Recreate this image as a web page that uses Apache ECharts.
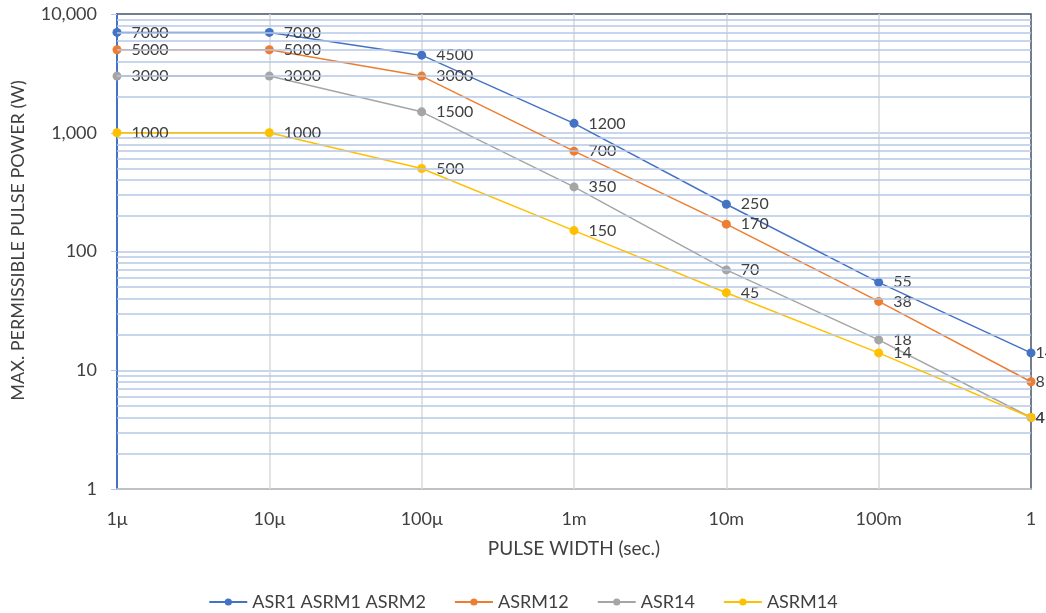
<!DOCTYPE html>
<html>
<head>
<meta charset="utf-8">
<script src="https://cdn.jsdelivr.net/npm/echarts@6/dist/echarts.min.js"></script>
<style>
  html, body { margin: 0; padding: 0; background: #fff; }
  #chart { width: 1046px; height: 613px; }
</style>
</head>
<body>
<div id="chart"></div>
<script>
  // pulse widths along the bottom
  var widths = ['1μ', '10μ', '100μ', '1m', '10m', '100m', '1'];

  // max permissible pulse power (W)
  var asr1 = [7000, 7000, 4500, 1200, 250, 55, 14];
  var asrm12 = [5000, 5000, 3000, 700, 170, 38, 8];
  var asr14 = [3000, 3000, 1500, 350, 70, 18, 4];
  var asrm14 = [1000, 1000, 500, 150, 45, 14, 4];

  var seriesNames = ['ASR1 ASRM1 ASRM2', 'ASRM12', 'ASR14', 'ASRM14'];
  var colors = ['#4472c4', '#ed7d31', '#a5a5a5', '#ffc000'];

  // the 2..9 lines of each decade
  var minorLines = [2, 3, 4, 5, 6, 7, 8, 9,
    20, 30, 40, 50, 60, 70, 80, 90,
    200, 300, 400, 500, 600, 700, 800, 900,
    2000, 3000, 4000, 5000, 6000, 7000, 8000, 9000];

  var font = 'Lato, "Liberation Sans", sans-serif';
  var textColor = '#404040';

  function mkSeries(name, data, color) {
    var last = data.length - 1;
    return {
      name: name,
      type: 'line',
      // last labels sit tight against the right edge, like the original
      data: data.map(function (v, i) {
        return i === last ? { value: v, label: { distance: 0 } } : v;
      }),
      color: color,
      symbol: 'circle',
      symbolSize: 9,
      lineStyle: { width: 1.5, color: color },
      itemStyle: { color: color },
      label: {
        show: true,
        position: 'right',
        distance: 10,
        color: textColor,
        fontFamily: font,
        fontSize: 16
      },
      z: 3
    };
  }

  var chart = echarts.init(document.getElementById('chart'));
  var option = {
    animation: false,
    textStyle: { fontFamily: font },
    grid: {
      left: 117, right: 15, top: 14, bottom: 124,
      show: true,
      borderColor: '#44546a',
      borderWidth: 1.5
    },
    legend: {
      bottom: -3,
      left: 'center',
      data: seriesNames,
      itemWidth: 38,
      itemHeight: 9,
      itemGap: 28,
      textStyle: { color: textColor, fontSize: 18, fontFamily: font }
    },
    xAxis: {
      type: 'category',
      data: widths,
      boundaryGap: false,
      name: 'PULSE WIDTH (sec.)',
      nameLocation: 'middle',
      nameGap: 50,
      nameTextStyle: { color: textColor, fontSize: 19, fontFamily: font },
      axisLine: { lineStyle: { color: '#d9d9d9', width: 1.5 } },
      axisTick: { show: false },
      axisLabel: { color: textColor, fontSize: 18, margin: 21, fontFamily: font },
      splitLine: {
        show: true, showMinLine: false, showMaxLine: false,
        lineStyle: { color: '#d9d9d9', width: 1.5 }
      }
    },
    yAxis: {
      type: 'log',
      logBase: 10,
      min: 1,
      max: 10000,
      name: 'MAX. PERMISSIBLE PULSE POWER (W)',
      nameLocation: 'middle',
      nameGap: 90,
      nameTextStyle: {
        color: textColor, fontSize: 18, fontFamily: font,
        padding: [0, 0, 0, 22]
      },
      axisLine: { show: true, lineStyle: { color: '#4472c4', width: 2 } },
      axisTick: { show: true, length: 6, lineStyle: { color: '#b4c7e7' } },
      axisLabel: {
        color: textColor, fontSize: 18, margin: 20, fontFamily: font,
        formatter: function (v) { return Math.round(v).toLocaleString('en-US'); }
      },
      splitLine: {
        show: true, showMinLine: false, showMaxLine: false,
        lineStyle: { color: '#b4c7e7', width: 1.5 }
      }
    },
    series: [
      mkSeries(seriesNames[0], asr1, colors[0]),
      mkSeries(seriesNames[1], asrm12, colors[1]),
      mkSeries(seriesNames[2], asr14, colors[2]),
      mkSeries(seriesNames[3], asrm14, colors[3]),
      {
        type: 'line',
        data: [],
        silent: true,
        z: 1,
        markLine: {
          silent: true,
          symbol: 'none',
          label: { show: false },
          lineStyle: { color: '#b4c7e7', width: 1.5, type: 'solid' },
          data: minorLines.map(function (v) { return { yAxis: v }; })
        }
      }
    ]
  };
  chart.setOption(option);
</script>
</body>
</html>
